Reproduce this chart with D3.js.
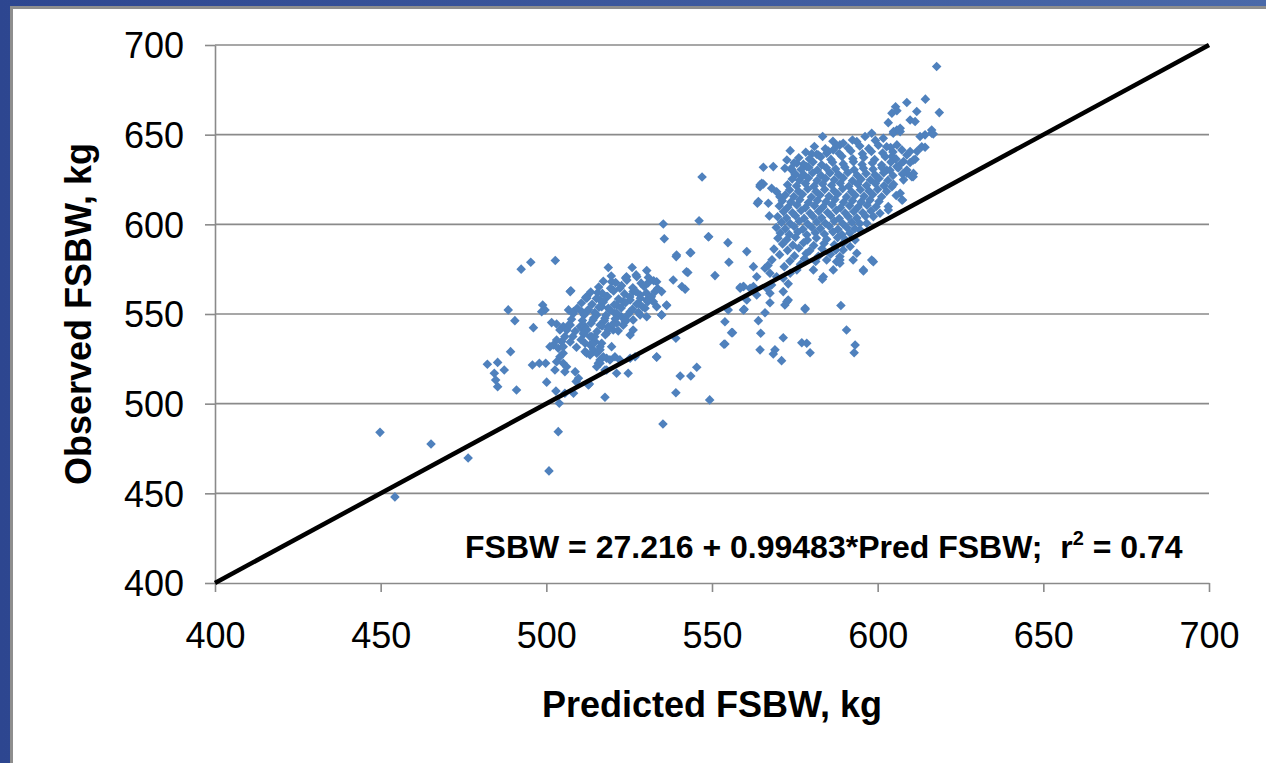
<!DOCTYPE html>
<html><head><meta charset="utf-8">
<script src="https://cdn.jsdelivr.net/npm/d3@7"></script>
<style>html,body{margin:0;padding:0;background:#fff;overflow:hidden}</style>
</head><body>
<svg id="chart" width="1266" height="763"></svg>
<script>
const xTicks = [400,450,500,550,600,650,700];
const yTicks = [400,450,500,550,600,650,700];
const refLineX = [400,700];
const refLineY = [400,700];
const xTitle = "Predicted FSBW, kg";
const yTitle = "Observed FSBW, kg";
const eqMain = "FSBW = 27.216 + 0.99483*Pred FSBW;  r";
const eqSup = "2";
const eqTail = " = 0.74";

// [predicted, observed]
const lowOutliers = [[449.8,484],[454.3,448],[465.2,477.5],[476.4,469.7],[500.8,462.5],[503.6,484.4],[535.2,488.7],[549.3,502.1],[517.7,503.6]];

const leftCluster = [
[492.4,575],[495.3,578.9],[502.7,579.8],[507.4,563],[488.5,552.3],[490.5,546.3],[496.1,542.4],[489.2,529],[482.2,522],[485.3,523],[487.3,518.8],[484.3,517],[484.7,513.2],[485.3,509.5],[491,507.6],[495.8,521.6],[497.9,522.5],[499.8,522.5],[500.1,512],[502.9,507],[503.9,500.2],
[498.9,555],[499.6,552.3],[498.6,551.3],[501.6,545.2],[503.1,544.4],[505.1,543],[507.2,543.9],
[504.1,541.1],[506.2,541.1],[505.6,537.4],[504.6,534.6],[503.1,535.5],[502.1,532.7],[501.1,531.8],[503.6,530.9],[505.1,531.8],[505.1,528.1],[504.1,526.2],[503.1,523.4],[505.1,522.5],[506.1,520.6],[505.6,517.8],[502.6,518.8],[508.7,517.8],[509,512.3],[512.7,510.4],
[510.7,542],[511.2,539.3],[512.2,541.1],[513.7,537.4],[514.7,534.6],[516.2,531.8],[511.7,533.7],[513.2,532.7],[514.2,530],[512.2,528.1],[515.2,528.1],[516.2,524.4],[517.7,518.8],[515.7,522.5],[518.2,525.3],
[512.2,558.8],[515.5,561.9],[518.7,575.9],[525.9,575.9],[530.3,574.2],[519.7,568],[524.2,570.8],[527.3,570.8],[530.8,567.5],[533.3,568],[534.8,562.5],[532.8,562.5],[520.2,563.4],[522.2,564.4],[526.2,562.5],[528.3,560.6],[530.3,557.8],[532.3,556.9],[516.2,557.8],[518.2,559.7],[516.7,554.1],[518.7,553.2],[521.2,555],[523.2,556.9],[525.3,557.8],[527.8,556],[529.8,553.2],[533.3,554.1],[536.3,555],[534.8,549.5],[530.3,548.5],[528.3,549.5],[525.3,551.3],[522.7,548.5],[520.7,550.4],[517.7,547.6],[515.2,549.5],[512.2,551.3],[510.7,551.3],[508.2,551.3],[506.7,552.3],
[514.1,546.7],[516.2,543.9],[518.7,543],[521.2,544.8],[523.8,545.7],[526.2,546.7],[526.2,541.1],[525.3,538.3],[520.2,541.1],[518.2,539.3],[510.2,543],[511.7,543],[513.2,537.4],[514.2,533.7],[511.7,529],[513.2,527.2],[516.2,530],[517.2,526.2],[516.7,533.7],[519.7,531.8],[520.7,526.2],[519.2,524.4],[522.2,524.4],[525.3,525.3],[526.8,526.2],[533.3,526.2],[521.2,517],[524.7,517],[516.2,522.5],[515.2,520.6],[518.2,518.8],[513,511],[509.7,514.2],[508.2,505.8],[505.6,505.8],[507.2,562.5],[512.2,559.7]
];

const leftCore = [
[519.6,571.2],[523.9,570.1],[527.1,571.8],[530.8,570.4],
[517.2,568.3],[520.9,567.6],[524.3,568.9],[528.6,567.2],[532.4,568.5],
[515.8,565.1],[519.4,564.3],[522.7,565.8],[526.1,564.6],[529.5,565.4],[533.6,564.2],
[513.4,562.3],[516.9,561.5],[520.3,562.8],[523.6,561.2],[527.0,562.6],[530.2,561.7],
[511.9,559.2],[515.1,558.6],[518.5,559.8],[521.8,558.3],[525.2,559.5],[528.4,558.8],[531.7,559.6],
[510.6,556.1],[513.8,555.4],[517.2,556.7],[520.5,555.2],[523.9,556.3],[527.3,555.6],[530.6,556.8],
[509.3,553.2],[512.7,552.5],[515.9,553.8],[519.2,552.3],[522.6,553.4],[526.0,552.7],[529.1,553.9],
[508.1,550.2],[511.4,549.5],[514.6,550.8],[518.0,549.3],[521.3,550.4],[524.7,549.7],[527.8,550.9],
[507.6,547.1],[510.9,546.4],[514.3,547.7],[517.5,546.2],[520.8,547.3],[524.1,546.6],
[506.9,544.2],[513.5,544.8],[516.8,543.3],[520.1,544.4],[523.2,543.7],
[508.7,540.4],[512.0,541.7],[515.3,540.2],[518.6,541.3],[521.7,540.6],
[508.0,537.5],[511.3,538.8],[514.6,537.3],[517.8,538.4],
[507.2,534.4],[510.5,535.7],[509.1,531.5]
];

const midScatter = [
[535.3,600.2],[546.1,602],[535.6,592],[549,593.1],[554.8,589.8],[539.2,582],[543.6,584.2],[555.1,578.9],[560.5,584.8],[542.7,573.1],[550.9,571.4],[538.3,569],[540.9,565.3],[541.9,563.8],[536.3,554.7],[534.8,549.5],[533.3,525.9],[539.1,536.5],[540.4,515.4],[543.6,515.4],[545.4,520.3],[539.1,506.1],[553.9,545.7],[556.2,539.6],[553.6,533.1],[559.5,552.3],[560.5,557.8],[558.5,564.4],[559.5,565.3],[554.9,552.3],[547,626.4],[539.3,582.9],[543.4,584.2],[548.9,593.1],[542.3,573.6],
[595.7,574],[583.3,569.4],[588.9,554.7],[578.1,552.6],[590.6,541.1],[593.2,532.7],[592.9,528.4],[577.1,534],[578.6,533.7],[579.6,528.4],[571.5,536.8],[569,530],[568.5,527.7],[571,524],[564.5,530],[564.7,539.3],[564,546.3],[555.9,539.6],[553.9,533.3],[559.7,552.6],[566,550.7],[567.5,556.3],[572,555],[573,557.8],[572.6,556.9],[571.5,562.5],[573,566.8],[567.5,561.6],[568,566.2],[566.5,564.4],[563.5,560.6],[562.5,565.3],[561.5,564.4],[559.5,565.3],[558.5,564.9],[578.1,553.2]
];

const upperTail = [
[617.8,688],[614.4,669.8],[608.8,667.9],[618.6,662.3],[605.4,665.6],[605.8,663.4],[604.3,662],[611.8,662.9],[603.2,656.7],[609.8,658.2],[611.3,657.3],[605.8,652.6],[606.8,653.6],[604.8,651.7],[616.3,652.6],[616.8,650.4],[612.8,649],[614.3,643],[611.3,636.3],[583.4,649],[573.6,641.1],[565.5,631.8],[564.5,622],[565.5,622.5],[568,620.1],[569.5,618.2],[570.5,615.4],[563.7,611.8],[567.3,604.7],[598.2,580.1],[607.5,613.6],[610.7,626.6],[603.2,609.9],
[580.1,639.3],[582.1,638.7],[584.6,639.6],[586.6,641.5],[588.6,644.3],[589.6,645.2],[593.7,646.1],[596.2,649],[598.2,650.8],[601.7,648],[604.7,650.8],[606.8,651.7],[602.7,643.3],[605.8,644.3],[607.3,641.5],[608.8,638.7],[609.8,640.6],[610.8,635.9],[607.8,635],[604.3,637.8],[613.3,643.3],[616.3,650.8],[614.3,649.9],[610.8,628.4],[610.3,626.6],[608.8,630.3],[607.8,624.8],[607.3,613.6],[603.2,608],
[600.7,606.2],[598.7,604.3],[596.7,600.6],[594.7,596.9],[593.2,591.3],[591.7,587.6],[589.6,585.7],[588.6,582],[587.6,579.2],[598.7,579.2],[595.7,574.6],[588.6,580.1],[592.6,580.1],[593.7,583.9],
[562.5,576.4],[566,575.5],[563.5,570.8],[567.5,572.7],[569.5,570.8],[571.5,569.9],[573.6,572.7],[575.6,574.6],[580.6,574.6],[583.6,570.8],[586.6,574.6],[588.6,578.3],[584.6,580.1],
[565,622.9],[564.5,621],[572,631.3],[574.1,630.3],[575.1,627.6],[577.1,626.7],[578.6,632.2],[575.6,634.1],[572.6,635.9],[568.5,632.2],[564,612.7],[567,611.8],
[602.7,630.3],[605.8,632.2],[608.8,628.5],[604.3,621],[606.8,617.3]
];

const rightCore = [
[586.5,646.3],[592.4,647.0],[599.3,646.8],
[580.9,643.4],[584.2,642.1],[587.7,643.9],[591.1,642.6],[594.6,643.7],[597.3,642.2],[600.2,644.1],[603.9,642.8],
[578.3,640.2],[581.6,639.1],[585.1,640.8],[588.4,639.5],[591.9,640.9],[595.4,639.3],[598.1,640.6],[601.5,639.8],[604.6,640.4],[611.9,640.7],
[576.2,637.1],[579.4,636.4],[582.8,637.6],[585.9,636.2],[589.2,637.9],[592.5,636.6],[595.8,637.3],[599.1,636.1],[602.3,637.7],[605.5,636.5],
[574.8,634.3],[577.6,633.5],[580.5,634.8],[583.1,633.2],[586.4,634.6],[589.6,633.7],[592.7,634.9],[595.3,633.4],[598.4,634.2],[601.2,633.1],[604.0,634.7],[606.9,633.6],[609.8,634.5],
[573.9,631.2],[576.9,630.6],[579.2,631.8],[581.8,630.3],[584.5,631.5],[587.3,630.9],[590.1,631.9],[592.9,630.4],[595.7,631.3],[598.6,630.7],[601.3,631.6],[603.7,630.2],[606.2,631.4],
[575.1,628.2],[577.8,627.5],[580.4,628.8],[582.9,627.3],[585.6,628.6],[588.2,627.8],[591.0,628.9],[593.8,627.4],[596.5,628.3],[599.2,627.6],[601.8,628.7],[604.6,627.2],[607.5,628.1],
[574.2,625.3],[576.4,624.6],[579.1,625.8],[581.7,624.4],[584.3,625.5],[586.9,624.8],[589.6,625.9],[592.4,624.3],[595.0,625.2],[597.8,624.7],[600.4,625.6],[603.1,624.5],
[572.8,622.1],[575.5,621.4],[578.2,622.7],[580.8,621.3],[583.4,622.5],[586.1,621.8],[588.7,622.9],[591.3,621.2],[594.0,622.4],[596.6,621.6],[599.3,622.8],[601.9,621.5],[604.8,622.3],
[573.4,619.2],[576.1,618.5],[578.9,619.7],[581.4,618.3],[584.0,619.4],[586.8,618.7],[589.4,619.8],[592.1,618.2],[594.8,619.3],[597.4,618.6],[600.0,619.5],[602.7,618.4],
[572.1,616.3],[574.7,615.5],[577.3,616.8],[580.0,615.2],[582.6,616.4],[585.3,615.7],[587.9,616.9],[590.6,615.3],[593.2,616.2],[595.9,615.6],[598.5,616.7],[601.2,615.4],[605.6,616.1],
[571.2,613.1],[573.8,612.4],[576.5,613.7],[579.1,612.2],[581.8,613.3],[584.4,612.6],[587.1,613.8],[589.7,612.3],[592.4,613.2],[595.0,612.5],[597.7,613.6],[600.4,612.7],
[570.3,610.2],[572.9,609.5],[575.6,610.8],[578.2,609.3],[580.9,610.4],[583.5,609.7],[586.2,610.9],[588.8,609.2],[591.5,610.3],[594.1,609.6],[596.8,610.7],[599.5,609.8],
[571.6,607.1],[574.3,606.4],[576.9,607.7],[579.6,606.2],[582.2,607.3],[584.9,606.6],[587.5,607.8],[590.2,606.3],[592.8,607.2],[595.5,606.5],[598.0,607.4],
[569.8,604.2],[572.5,603.5],[575.2,604.8],[577.8,603.3],[580.5,604.4],[583.1,603.7],[585.8,604.9],[588.4,603.2],[591.1,604.3],[593.7,603.6],[596.3,604.6],
[571.0,601.1],[573.6,600.4],[576.3,601.7],[578.9,600.2],[581.6,601.3],[584.2,600.6],[586.9,601.8],[589.5,600.3],[592.2,601.2],[594.6,600.5],
[569.4,598.2],[572.1,597.5],[574.8,598.8],[577.4,597.3],[580.1,598.4],[582.7,597.7],[585.4,598.9],[588.0,597.2],[590.7,598.3],[593.1,597.6],
[570.6,595.1],[573.3,594.4],[575.9,595.7],[578.6,594.2],[581.2,595.3],[583.9,594.6],[586.5,595.8],[589.2,594.3],[591.6,595.2],
[569.9,592.2],[572.6,591.5],[575.2,592.8],[578.8,591.3],[581.5,592.4],[584.6,591.7],[587.9,592.6],[590.3,591.4],
[571.3,589.1],[574.4,588.4],[577.6,589.7],[580.7,588.2],[583.8,589.3],[586.9,588.6],[589.6,589.5],
[568.7,586.2],[572.8,585.5],[576.2,586.8],[579.5,585.3],[583.2,586.4],[587.4,585.7],
[570.4,583.1],[574.9,582.4],[578.4,583.7],[582.1,582.2],[585.8,583.3],
[568.1,580.2],[573.5,579.5],[577.9,580.8],[581.3,579.3],
[566.9,577.1],[571.8,576.4],[576.7,577.7]
];

const allPoints = [].concat(lowOutliers, leftCluster, leftCore, midScatter, upperTail, rightCore);

const svg = d3.select("#chart");
const defs = svg.append("defs");
const grad = defs.append("linearGradient").attr("id","frameGrad").attr("x1","0").attr("y1","0").attr("x2","1").attr("y2","0");
grad.append("stop").attr("offset","0").attr("stop-color","#2d4690");
grad.append("stop").attr("offset","1").attr("stop-color","#4a69a9");

svg.append("rect").attr("x",0).attr("y",0).attr("width",1266).attr("height",763).attr("fill","url(#frameGrad)");
svg.append("rect").attr("x",10).attr("y",6).attr("width",1256).attr("height",757).attr("fill","#8e8e8e");
svg.append("rect").attr("x",13).attr("y",9).attr("width",1253).attr("height",754).attr("fill","#ffffff");

const x = d3.scaleLinear().domain([400,700]).range([215,1209]);
const y = d3.scaleLinear().domain([400,700]).range([583,45]);

const gridColor = "#8a8a8a";
const font = "'Liberation Sans', Arial, sans-serif";

// horizontal gridlines
svg.append("g").selectAll("line").data(yTicks.filter(t => t !== 400)).join("line")
  .attr("x1", x(400)).attr("x2", x(700))
  .attr("y1", d => y(d)).attr("y2", d => y(d))
  .attr("stroke", gridColor).attr("stroke-width", 1.6);

// y axis
const yAxis = svg.append("g").attr("transform", `translate(${x(400)},0)`)
  .call(d3.axisLeft(y).tickValues(yTicks).tickSize(10).tickPadding(21).tickSizeOuter(0));
yAxis.select(".domain").attr("stroke", gridColor).attr("stroke-width", 1.6);
yAxis.selectAll(".tick line").attr("stroke", gridColor).attr("stroke-width", 1.6);
yAxis.selectAll(".tick text").attr("font-family", font).attr("font-size", 36).attr("fill", "#000").attr("dy", "0.36em");

// x axis
const xAxis = svg.append("g").attr("transform", `translate(0,${y(400)})`)
  .call(d3.axisBottom(x).tickValues(xTicks).tickSize(9).tickSizeOuter(0));
xAxis.select(".domain").attr("stroke", gridColor).attr("stroke-width", 1.6);
xAxis.selectAll(".tick line").attr("stroke", gridColor).attr("stroke-width", 1.6);
xAxis.selectAll(".tick text").attr("font-family", font).attr("font-size", 36).attr("fill", "#000")
  .attr("y", 65).attr("dy", null);

// points
const diamond = d3.symbol().type(d3.symbolSquare).size(46);
svg.append("g").selectAll("path").data(allPoints).join("path")
  .attr("d", diamond)
  .attr("transform", d => `translate(${x(d[0])},${y(d[1])}) rotate(45)`)
  .attr("fill", "#4f81bd");

// 1:1 reference line
const lineData = refLineX.map((v, i) => [v, refLineY[i]]);
svg.append("path").datum(lineData)
  .attr("d", d3.line().x(d => x(d[0])).y(d => y(d[1])))
  .attr("stroke", "#000").attr("stroke-width", 4.5).attr("fill", "none");

// titles
svg.append("text").attr("x", (x(400)+x(700))/2).attr("y", 717)
  .attr("text-anchor", "middle").attr("font-family", font).attr("font-weight", "bold").attr("font-size", 36)
  .text(xTitle);
svg.append("text").attr("transform", `translate(91,${(y(400)+y(700))/2}) rotate(-90)`)
  .attr("text-anchor", "middle").attr("font-family", font).attr("font-weight", "bold").attr("font-size", 36)
  .text(yTitle);

// equation
const eq = svg.append("text").attr("x", 465).attr("y", 558)
  .attr("font-family", font).attr("font-weight", "bold").attr("font-size", 32).attr("xml:space","preserve");
eq.append("tspan").text(eqMain);
eq.append("tspan").attr("font-size", 20).attr("dy", -13).text(eqSup);
eq.append("tspan").attr("dy", 13).text(eqTail);
</script>
</body></html>
